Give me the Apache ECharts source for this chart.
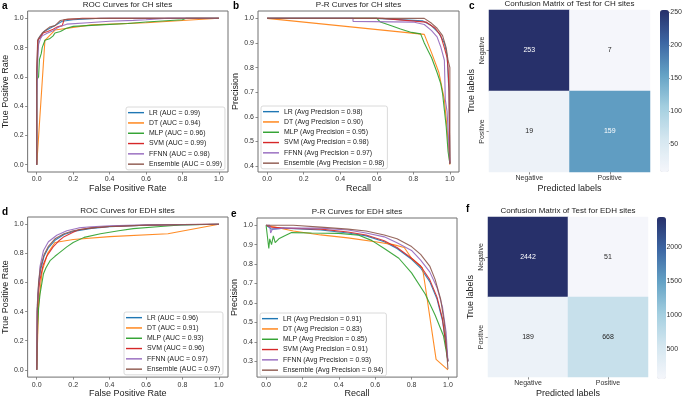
<!DOCTYPE html>
<html><head><meta charset="utf-8">
<script src="https://cdn.jsdelivr.net/npm/echarts@6/dist/echarts.min.js"></script>
<style>html,body{margin:0;padding:0;background:#fff}#chart{width:685px;height:399px}</style>
</head><body><div id="chart"></div><script>
// ---------------- DATA ----------------
const models = ['LR', 'DT', 'MLP', 'SVM', 'FFNN', 'Ensemble'];
const aucCH = ['0.99', '0.94', '0.96', '0.99', '0.98', '0.99'];
const apCH = ['0.98', '0.90', '0.95', '0.98', '0.97', '0.98'];
const aucEDH = ['0.96', '0.91', '0.93', '0.96', '0.97', '0.97'];
const apEDH = ['0.91', '0.83', '0.85', '0.91', '0.93', '0.94'];

const unitTicks = [0, 0.2, 0.4, 0.6, 0.8, 1.0];
const prCHTicks = [0.4, 0.5, 0.6, 0.7, 0.8, 0.9, 1.0];
const prEDHTicks = [0.3, 0.4, 0.5, 0.6, 0.7, 0.8, 0.9, 1.0];

// ROC, CH sites  [fpr, tpr]
const rocCH_LR = [[0,0],[0,0.62],[0.006,0.85],[0.02,0.88],[0.04,0.91],[0.07,0.93],[0.1,0.95],[0.14,0.98],[0.2,0.99],[0.35,1],[1,1]];
const rocCH_DT = [[0,0],[0.045,0.85],[0.1,0.92],[0.3,0.955],[0.6,0.97],[1,1]];
const rocCH_MLP = [[0,0],[0,0.58],[0.01,0.6],[0.015,0.72],[0.025,0.76],[0.03,0.8],[0.04,0.81],[0.045,0.85],[0.07,0.86],[0.09,0.88],[0.1,0.9],[0.13,0.91],[0.16,0.93],[0.2,0.945],[0.35,0.955],[0.5,0.965],[0.6,0.975],[0.8,0.99],[0.82,1],[1,1]];
const rocCH_SVM = [[0,0],[0,0.63],[0.005,0.85],[0.02,0.87],[0.035,0.9],[0.06,0.91],[0.09,0.925],[0.11,0.94],[0.14,0.95],[0.15,0.99],[0.25,1],[1,1]];
const rocCH_FFNN = [[0,0],[0,0.46],[0.005,0.7],[0.01,0.82],[0.02,0.86],[0.03,0.88],[0.06,0.9],[0.09,0.915],[0.12,0.94],[0.165,0.96],[0.28,0.97],[0.4,0.98],[0.53,0.986],[0.6,0.99],[0.72,1],[1,1]];
const rocCH_Ens = [[0,0],[0,0.6],[0.008,0.86],[0.015,0.87],[0.03,0.9],[0.05,0.92],[0.07,0.94],[0.1,0.95],[0.13,0.985],[0.17,0.995],[0.4,1],[1,1]];

// P-R, CH sites  [recall, precision]
const prCH_LR = [[0,1],[0.6,1],[0.85,0.99],[0.9,0.97],[0.94,0.94],[0.97,0.9],[0.985,0.85],[0.995,0.7],[1,0.41]];
const prCH_DT = [[0,1],[0.86,0.935],[0.9,0.86],[0.94,0.78],[0.97,0.67],[0.985,0.55],[1,0.406]];
const prCH_MLP = [[0,1],[0.6,1],[0.62,0.985],[0.68,0.97],[0.73,0.957],[0.79,0.943],[0.84,0.937],[0.86,0.9],[0.88,0.87],[0.9,0.84],[0.93,0.78],[0.95,0.735],[0.96,0.695],[0.98,0.56],[0.99,0.46],[1,0.41]];
const prCH_SVM = [[0,1],[0.63,1],[0.87,0.985],[0.92,0.96],[0.95,0.93],[0.97,0.88],[0.985,0.84],[0.99,0.8],[0.995,0.72],[1,0.41]];
const prCH_FFNN = [[0,1],[0.47,1],[0.47,0.988],[0.8,0.985],[0.86,0.975],[0.9,0.95],[0.93,0.925],[0.95,0.885],[0.97,0.83],[0.975,0.67],[0.985,0.62],[1,0.41]];
const prCH_Ens = [[0,1],[0.86,1],[0.9,0.98],[0.93,0.96],[0.96,0.93],[0.98,0.88],[0.99,0.83],[1,0.8],[1,0.41]];

// ROC, EDH sites
const rocEDH_LR = [[0,0],[0.003,0.4],[0.01,0.58],[0.02,0.68],[0.04,0.78],[0.065,0.84],[0.1,0.89],[0.15,0.93],[0.2,0.95],[0.3,0.972],[0.4,0.984],[0.6,0.993],[1,1]];
const rocEDH_DT = [[0,0],[0.01,0.45],[0.03,0.68],[0.06,0.8],[0.1,0.875],[0.2,0.895],[0.4,0.915],[0.72,0.935],[1,1]];
const rocEDH_MLP = [[0,0],[0.005,0.3],[0.01,0.42],[0.018,0.52],[0.037,0.66],[0.05,0.7],[0.073,0.75],[0.1,0.78],[0.12,0.8],[0.165,0.845],[0.2,0.875],[0.26,0.91],[0.35,0.935],[0.45,0.955],[0.53,0.97],[0.68,0.985],[0.79,0.995],[1,1]];
const rocEDH_SVM = [[0,0],[0.003,0.4],[0.008,0.52],[0.018,0.62],[0.035,0.72],[0.055,0.78],[0.09,0.845],[0.12,0.885],[0.15,0.915],[0.2,0.945],[0.23,0.962],[0.3,0.975],[0.4,0.985],[0.6,0.993],[0.8,0.998],[1,1]];
const rocEDH_FFNN = [[0,0],[0.003,0.45],[0.009,0.56],[0.018,0.71],[0.037,0.82],[0.064,0.88],[0.11,0.925],[0.165,0.955],[0.23,0.975],[0.3,0.983],[0.4,0.99],[0.6,0.996],[1,1]];
const rocEDH_Ens = [[0,0],[0.003,0.42],[0.01,0.6],[0.02,0.7],[0.04,0.79],[0.065,0.85],[0.1,0.9],[0.15,0.935],[0.2,0.955],[0.3,0.975],[0.4,0.985],[0.6,0.994],[1,1]];

// P-R, EDH sites
const prEDH_LR = [[0,1],[0.03,0.98],[0.1,0.985],[0.3,0.975],[0.45,0.96],[0.55,0.945],[0.65,0.915],[0.72,0.88],[0.8,0.825],[0.85,0.78],[0.9,0.71],[0.94,0.62],[0.97,0.51],[0.99,0.38],[1,0.3]];
const prEDH_DT = [[0,1],[0.15,0.97],[0.3,0.95],[0.45,0.935],[0.6,0.915],[0.7,0.9],[0.76,0.885],[0.8,0.83],[0.86,0.78],[0.875,0.69],[0.935,0.31],[1,0.256]];
const prEDH_MLP = [[0,1],[0.01,1],[0.015,0.88],[0.02,0.93],[0.03,0.9],[0.04,0.945],[0.05,0.91],[0.07,0.93],[0.1,0.945],[0.14,0.962],[0.25,0.96],[0.4,0.958],[0.51,0.948],[0.58,0.922],[0.65,0.88],[0.73,0.83],[0.8,0.755],[0.875,0.646],[0.93,0.537],[0.976,0.43],[0.994,0.335],[1,0.3]];
const prEDH_SVM = [[0,1],[0.03,0.99],[0.1,0.985],[0.3,0.98],[0.45,0.965],[0.55,0.95],[0.65,0.92],[0.72,0.885],[0.8,0.83],[0.85,0.79],[0.9,0.72],[0.94,0.63],[0.97,0.52],[0.99,0.38],[1,0.3]];
const prEDH_FFNN = [[0,1],[0.02,1],[0.025,0.96],[0.035,0.98],[0.1,0.985],[0.3,0.985],[0.45,0.975],[0.55,0.96],[0.65,0.94],[0.72,0.91],[0.8,0.87],[0.85,0.82],[0.9,0.76],[0.94,0.68],[0.97,0.58],[0.99,0.45],[1,0.3]];
const prEDH_Ens = [[0,1],[0.15,1],[0.3,0.99],[0.45,0.98],[0.55,0.97],[0.65,0.95],[0.72,0.93],[0.8,0.89],[0.85,0.85],[0.9,0.79],[0.93,0.72],[0.96,0.62],[0.98,0.5],[0.99,0.4],[1,0.26]];

// Confusion matrices [pred, true, count]
const cmLabels = ['Negative', 'Positive'];
const cmCH = [[0,0,253],[1,0,7],[0,1,19],[1,1,159]];
const cmEDH = [[0,0,2442],[1,0,51],[0,1,189],[1,1,668]];
const cbTicksCH = [50, 100, 150, 200, 250];
const cbTicksEDH = [500, 1000, 1500, 2000];

// ---------------- STYLE / LAYOUT ----------------
const FONT = '"Liberation Sans", Arial, sans-serif';
const colors = ['#1f77b4', '#ff7f0e', '#2ca02c', '#d62728', '#9467bd', '#8c564b'];
const cmapColors = ['#f5f6fb', '#d5e7f0', '#a4cfe0', '#64a2c5', '#3c66a3', '#27306a'];
const spine = '#707070';
const tickTxt = '#333';
const TICK_FS = 7, NAME_FS = 9, TITLE_FS = 8, LEG_FS = 6.9;

const curvePanels = [
  { grid: {left:27, top:11, width:201, height:161}, y:[-0.05,1.05], yTicks: unitTicks,
    xName:'False Positive Rate', yName:'True Positive Rate', title:'ROC Curves for CH sites',
    curves:[rocCH_LR, rocCH_DT, rocCH_MLP, rocCH_SVM, rocCH_FFNN, rocCH_Ens],
    names: models.map((m,i)=>m+' (AUC = '+aucCH[i]+')'), legend:{left:126, top:107}, letter:'a', lx:2, ly:1 },
  { grid: {left:258, top:11, width:201, height:161}, y:[0.376,1.03], yTicks: prCHTicks,
    xName:'Recall', yName:'Precision', title:'P-R Curves for CH sites',
    curves:[prCH_LR, prCH_DT, prCH_MLP, prCH_SVM, prCH_FFNN, prCH_Ens],
    names: models.map((m,i)=>m+' (Avg Precision = '+apCH[i]+')'), legend:{left:261, top:106}, letter:'b', lx:233, ly:1 },
  { grid: {left:27, top:217, width:201, height:162}, y:[-0.05,1.05], yTicks: unitTicks,
    xName:'False Positive Rate', yName:'True Positive Rate', title:'ROC Curves for EDH sites',
    curves:[rocEDH_LR, rocEDH_DT, rocEDH_MLP, rocEDH_SVM, rocEDH_FFNN, rocEDH_Ens],
    names: models.map((m,i)=>m+' (AUC = '+aucEDH[i]+')'), legend:{left:124, top:312}, letter:'d', lx:2, ly:207 },
  { grid: {left:257, top:218, width:200, height:161}, y:[0.219,1.037], yTicks: prEDHTicks,
    xName:'Recall', yName:'Precision', title:'P-R Curves for EDH sites',
    curves:[prEDH_LR, prEDH_DT, prEDH_MLP, prEDH_SVM, prEDH_FFNN, prEDH_Ens],
    names: models.map((m,i)=>m+' (Avg Precision = '+apEDH[i]+')'), legend:{left:260, top:313}, letter:'e', lx:231, ly:209 }
];

const heatPanels = [
  { grid:{left:489, top:10, width:161, height:162}, data:cmCH, title:'Confusion Matrix of Test for CH sites',
    cb:{left:660, top:10, width:9, height:162}, cbTicks:cbTicksCH, letter:'c', lx:469, ly:1 },
  { grid:{left:488, top:217, width:160, height:162}, data:cmEDH, title:'Confusion Matrix of Test for EDH sites',
    cb:{left:657, top:217, width:9, height:162}, cbTicks:cbTicksEDH, letter:'f', lx:466, ly:204 }
];

const grid = [], xAxis = [], yAxis = [], series = [], legend = [], title = [], visualMap = [];

function valAxis(extent, ticks, name, gi, gap) {
  return {
    type:'value', gridIndex:gi, min:extent[0], max:extent[1], name:name,
    nameLocation:'middle', nameGap:gap,
    nameTextStyle:{fontFamily:FONT, fontSize:NAME_FS, color:'#222'},
    axisLine:{show:false, onZero:false}, splitLine:{show:false},
    axisTick:{show:true, length:2.5, lineStyle:{color:spine, width:0.8}, customValues:ticks},
    axisLabel:{show:true, margin:4, fontFamily:FONT, fontSize:TICK_FS, color:tickTxt, customValues:ticks,
      hideOverlap:false, formatter:v=>Number(v).toFixed(1)}
  };
}

curvePanels.forEach((p, gi) => {
  grid.push(Object.assign({show:true, borderColor:spine, borderWidth:1, backgroundColor:'transparent'}, p.grid));
  xAxis.push(valAxis([-0.05,1.05], unitTicks, p.xName, gi, 11));
  yAxis.push(valAxis(p.y, p.yTicks, p.yName, gi, 15));
  p.curves.forEach((c, i) => {
    series.push({type:'line', name:p.names[i], xAxisIndex:gi, yAxisIndex:gi, data:c,
      symbol:'none', showSymbol:false, silent:true, animation:false,
      lineStyle:{width:1.1, color:colors[i], opacity:0.9}, itemStyle:{color:colors[i]}});
  });
  legend.push({data:p.names, orient:'vertical', left:p.legend.left, top:p.legend.top,
    icon:'rect', itemWidth:16, itemHeight:1.4, itemGap:2, itemTextGap:3.5,
    padding:[1.5,3,1.5,2], backgroundColor:'rgba(255,255,255,0.8)', borderColor:'#d0d0d0', borderWidth:0.8, borderRadius:2,
    selectedMode:false, textStyle:{fontFamily:FONT, fontSize:LEG_FS, color:'#222', lineHeight:8.3}});
  title.push({text:p.title, left:p.grid.left + p.grid.width/2, top:p.grid.top - 10, textAlign:'center', padding:0,
    textStyle:{fontFamily:FONT, fontSize:TITLE_FS, fontWeight:'normal', color:'#222'}});
  title.push({text:p.letter, left:p.lx, top:p.ly, padding:0,
    textStyle:{fontFamily:FONT, fontSize:10, fontWeight:'bold', color:'#000'}});
});

heatPanels.forEach((h, k) => {
  const gi = grid.length;
  grid.push(Object.assign({show:false}, h.grid));
  const catAxis = (name, gap, isY) => ({
    type:'category', gridIndex:gi, data:cmLabels, inverse:isY, name:name, nameLocation:'middle', nameGap:gap,
    nameTextStyle:{fontFamily:FONT, fontSize:NAME_FS, color:'#222'},
    axisLine:{show:false}, splitLine:{show:false}, splitArea:{show:false},
    axisTick:{show:true, alignWithLabel:true, length:2.5, lineStyle:{color:spine, width:0.8}},
    axisLabel:{margin:3, fontFamily:FONT, fontSize:TICK_FS, color:tickTxt, rotate:isY?90:0}
  });
  xAxis.push(catAxis('Predicted labels', 12, false));
  yAxis.push(catAxis('True labels', 13, true));
  const vals = h.data.map(d=>d[2]);
  const mn = Math.min(...vals), mx = Math.max(...vals);
  const sIdx = series.length;
  series.push({type:'heatmap', xAxisIndex:gi, yAxisIndex:gi, silent:true, animation:false,
    data:h.data.map(d=>({value:d, label:{color:(d[2]-mn)/(mx-mn) > 0.45 ? '#ffffff' : '#262626'}})),
    label:{show:true, fontFamily:FONT, fontSize:TICK_FS, formatter:pp=>String(pp.value[2])}});
  visualMap.push({type:'continuous', min:mn, max:mx, dimension:2, seriesIndex:sIdx, show:true,
    calculable:false, left:h.cb.left, top:h.cb.top, itemWidth:h.cb.width, itemHeight:h.cb.height,
    padding:0, inRange:{color:cmapColors}, hoverLink:false});
  // colorbar tick axis
  const cg = grid.length;
  grid.push(Object.assign({show:false}, h.cb));
  xAxis.push({type:'value', gridIndex:cg, show:false, min:0, max:1});
  yAxis.push({type:'value', gridIndex:cg, min:mn, max:mx, position:'right',
    axisLine:{show:false, onZero:false}, splitLine:{show:false},
    axisTick:{show:true, length:2.5, lineStyle:{color:spine, width:0.8}, customValues:h.cbTicks},
    axisLabel:{margin:3, fontFamily:FONT, fontSize:TICK_FS, color:tickTxt, customValues:h.cbTicks,
      formatter:v=>String(Math.round(v))}});
  series.push({type:'line', xAxisIndex:cg, yAxisIndex:cg, data:[], silent:true});
  title.push({text:h.title, left:h.grid.left + h.grid.width/2, top:h.grid.top - 10, textAlign:'center', padding:0,
    textStyle:{fontFamily:FONT, fontSize:TITLE_FS, fontWeight:'normal', color:'#222'}});
  title.push({text:h.letter, left:h.lx, top:h.ly, padding:0,
    textStyle:{fontFamily:FONT, fontSize:10, fontWeight:'bold', color:'#000'}});
});

const chart = echarts.init(document.getElementById('chart'), null, {renderer:'canvas'});
chart.setOption({animation:false, backgroundColor:'#fff', grid, xAxis, yAxis, series, legend, title, visualMap});
</script></body></html>
